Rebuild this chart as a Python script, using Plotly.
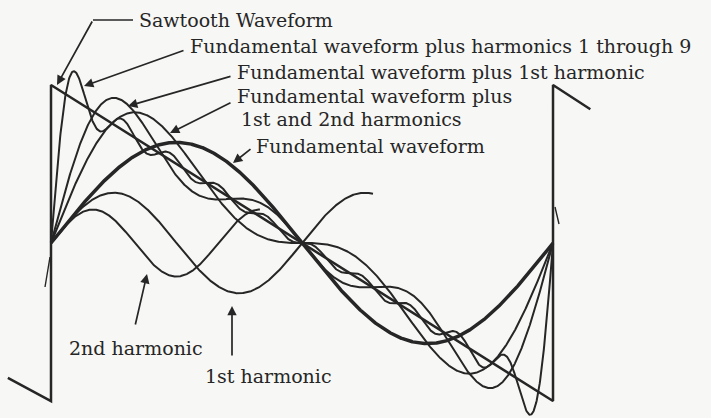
import numpy as np
import plotly.graph_objects as go

W, H = 711, 418

# Sine components of the sawtooth: term number and peak amplitude of each
HARMONIC_NUMBER = [1, 2, 3, 4, 5, 6, 7, 8, 9, 10]
HARMONIC_AMPLITUDE = [1.00, 0.50, 0.333, 0.25, 0.20, 0.167, 0.143, 0.125, 0.111, 0.10]

# Sawtooth outline (x in radians, y in amplitude units)
SAW_X = [-0.54, 0.0, 0.0, 6.283, 6.283, 6.75]
SAW_Y = [-1.34, -1.571, 1.571, -1.571, 1.571, 1.33]

# Extent (radians) over which the two single harmonics are drawn
FIRST_HARMONIC_END = 4.03
SECOND_HARMONIC_END = 2.62

# Partial sums shown: number of sine components included in each
PARTIAL_SUM_TERMS = [2, 3, 10]

INK = "#262626"
PAPER = "#f7f7f5"
FONT = "DejaVu Serif"

# Layout geometry: pixel position of x=0 / y=0 and scale of each axis
X0_PX, PX_PER_RAD = 51.0, 79.9
Y0_PX, PX_PER_UNIT = 243.0, 100.6

t = np.linspace(0.0, 2 * np.pi, 1200)


def component(k, x):
    return HARMONIC_AMPLITUDE[k] * np.sin(HARMONIC_NUMBER[k] * x)


def partial_sum(n_terms, x):
    return sum(component(k, x) for k in range(n_terms))


fig = go.Figure()

line_thin = dict(color=INK, width=2.0, shape="linear")

# single harmonics
x1 = t[t <= FIRST_HARMONIC_END]
fig.add_trace(go.Scatter(x=x1, y=component(1, x1), mode="lines", line=line_thin,
                         name="1st harmonic"))
x2 = t[t <= SECOND_HARMONIC_END]
fig.add_trace(go.Scatter(x=x2, y=component(2, x2), mode="lines", line=line_thin,
                         name="2nd harmonic"))

# partial sums
for n in PARTIAL_SUM_TERMS:
    fig.add_trace(go.Scatter(x=t, y=partial_sum(n, t), mode="lines", line=line_thin,
                             name=f"sum of {n} terms"))

# fundamental (heavy)
fig.add_trace(go.Scatter(x=t, y=component(0, t), mode="lines",
                         line=dict(color=INK, width=3.5), name="Fundamental waveform"))

# sawtooth
fig.add_trace(go.Scatter(x=SAW_X, y=SAW_Y, mode="lines",
                         line=dict(color=INK, width=2.5), name="Sawtooth Waveform"))


def px(xp, yp):
    return xp / W, 1 - yp / H


annotations = []
shapes = []


def arrow(tip, tail):
    x, y = px(*tip)
    annotations.append(dict(
        x=x, y=y, xref="paper", yref="paper", text="", showarrow=True,
        ax=tail[0] - tip[0], ay=tail[1] - tip[1],
        arrowhead=2, arrowsize=1.1, arrowwidth=1.7, arrowcolor=INK,
    ))


def label(text, left, cy, size=19):
    x, y = px(left, cy)
    annotations.append(dict(
        x=x, y=y, xref="paper", yref="paper", text=text, showarrow=False,
        xanchor="left", yanchor="middle", font=dict(family=FONT, size=size, color=INK),
    ))


def seg(a, b, width=1.7):
    xa, ya = px(*a)
    xb, yb = px(*b)
    shapes.append(dict(type="line", xref="paper", yref="paper",
                       x0=xa, y0=ya, x1=xb, y1=yb,
                       line=dict(color=INK, width=width)))


label("Sawtooth Waveform", 137, 20)
label("Fundamental waveform plus harmonics 1 through 9", 188, 46)
label("Fundamental waveform plus 1st harmonic", 235, 72)
label("Fundamental waveform plus", 235, 96)
label("1st and 2nd harmonics", 239, 119)
label("Fundamental waveform", 254, 146)
label("2nd harmonic", 67, 348)
label("1st harmonic", 203, 376)

seg((133, 20), (93, 20))
arrow((57, 85), (93, 20))
arrow((84, 86), (185, 50))
arrow((128, 106), (232, 76))
arrow((170, 133), (232, 102))
arrow((233, 163), (252, 148))
arrow((147, 274), (135, 326))
arrow((232, 306), (232, 357))

# small barbs on the vertical jumps
seg((45, 287), (50, 257), 1.4)
seg((559, 224), (555, 207), 1.4)

fig.update_layout(
    width=W, height=H,
    margin=dict(l=0, r=0, t=0, b=0),
    paper_bgcolor=PAPER, plot_bgcolor=PAPER,
    showlegend=False,
    annotations=annotations, shapes=shapes,
    xaxis=dict(range=[-X0_PX / PX_PER_RAD, (W - X0_PX) / PX_PER_RAD],
               visible=False, fixedrange=True),
    yaxis=dict(range=[(Y0_PX - H) / PX_PER_UNIT, Y0_PX / PX_PER_UNIT],
               visible=False, fixedrange=True),
)

fig.write_html("out.html")
